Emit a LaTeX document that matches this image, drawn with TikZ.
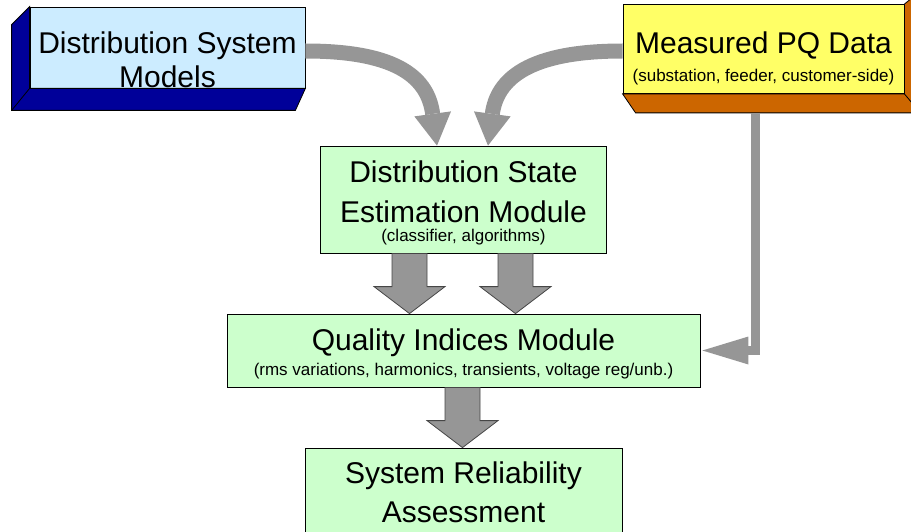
\documentclass[tikz,border=0pt]{standalone}
\usepackage{fontspec}
\setmainfont{Liberation Sans}
\usepackage{tikz}
\usetikzlibrary{arrows.meta, positioning, calc}
\definecolor{modelblue}{RGB}{204, 236, 255}
\definecolor{modeldark}{RGB}{0, 0, 153}
\definecolor{pqyellow}{RGB}{255, 255, 102}
\definecolor{pqorange}{RGB}{204, 102, 0}
\definecolor{modgreen}{RGB}{204, 255, 204}
\definecolor{flowgray}{RGB}{150, 150, 150}
\definecolor{rimgray}{RGB}{70, 70, 70}
\tikzset{
    facebox/.style={
        rectangle,
        draw=black,
        line width=0.8pt,
        inner sep=0pt,
        align=center
    },
    modbox/.style={
        facebox,
        fill=modgreen,
        font=\fontsize{30}{38}\selectfont
    },
    boxtext/.style={
        align=center,
        inner sep=0pt,
        font=\fontsize{30}{38}\selectfont
    },
    bendflow/.style={
        draw=flowgray,
        line width=15pt,
        -{Triangle[length=32pt, width=37pt, line width=0pt]}
    },
    sideflow/.style={
        draw=flowgray,
        line width=9pt,
        -{Triangle[length=46pt, width=28pt, line width=0pt]}
    },
    blockflow/.style={
        fill=flowgray,
        draw=rimgray,
        line width=0.8pt,
        line join=miter
    }
}
\newcommand{\subline}[1]{{\fontsize{17}{20}\selectfont #1}}
% fat downward arrow: x offset, source node, target node
\newcommand{\downblock}[3]{%
    \filldraw[blockflow]
        ($(#2.south)+(#1-17.5,0)$) -- ($(#2.south)+(#1+17.5,0)$)
        -- ($(#3.north)+(#1+17.5,-27)$) -- ($(#3.north)+(#1+35.5,-27)$)
        -- ($(#3.north)+(#1,0)$)
        -- ($(#3.north)+(#1-35.5,-27)$) -- ($(#3.north)+(#1-17.5,-27)$) -- cycle;}

\begin{document}
\begin{tikzpicture}[x=1pt, y=-1pt]
    \useasboundingbox (0,0) rectangle (911,532);
    \clip (0,0) rectangle (911,532);

    % the two input blocks, drawn as slabs
    \node[facebox, fill=modelblue, minimum width=275pt, minimum height=81pt] (dsm) at (167.5,47.5) {};
    \node[facebox, fill=pqyellow, minimum width=281pt, minimum height=89pt] (pq) at (763.5,49) {};
    \filldraw[fill=modeldark, draw=black, line width=0.8pt]
        (dsm.north west) -- ++(-18,18) -- ($(dsm.south west)+(-18,22)$)
        -- ($(dsm.south east)+(-10,22)$) -- (dsm.south east) -- (dsm.south west) -- cycle;
    \draw[line width=0.8pt] (dsm.south west) -- ++(-18,22);
    \filldraw[fill=pqorange, draw=black, line width=0.8pt]
        (pq.north east) -- ++(16,-13) -- ($(pq.south east)+(16,19)$)
        -- ($(pq.south west)+(13,19)$) -- (pq.south west) -- (pq.south east) -- cycle;
    \draw[line width=0.8pt] (pq.south east) -- ++(16,19);
    \node[boxtext] (dsmtext) at ($(dsm.center)+(0,12)$) {Distribution System\\[-4pt]Models};
    \node[boxtext] (pqtext) at ($(pq.center)+(0,9)$)
        {Measured PQ Data\\[-10pt]\subline{(substation, feeder, customer-side)}};

    % processing chain
    \node[modbox, minimum width=286pt, minimum height=107pt] (dse) at (463.5,199.5)
        {\rule{0pt}{28pt}Distribution State\\[2pt]Estimation Module\\[-19pt]\subline{(classifier, algorithms)}};
    \node[modbox, minimum width=473pt, minimum height=73pt] (qim) at (463.5,350.5)
        {\rule{0pt}{28pt}Quality Indices Module\\[-13pt]\subline{(rms variations, harmonics, transients, voltage reg/unb.)}};
    \node[modbox, minimum width=317pt, minimum height=88pt] (sra) at (463.5,492)
        {System Reliability\\[1pt]Assessment};

    \draw[bendflow] ([yshift=-3.5pt]dsm.east) .. controls +(95,0) and +(-9,-66) .. ([xshift=-26.5pt]dse.north);
    \draw[bendflow] ([yshift=-2pt]pq.west) .. controls +(-95,0) and +(9,-66) .. ([xshift=24.5pt]dse.north);
    \draw[sideflow] ($(pq.south)+(-8,19)$) |- ([xshift=2pt]qim.east);

    \downblock{-54}{dse}{qim}
    \downblock{52}{dse}{qim}
    \downblock{-1}{qim}{sra}
\end{tikzpicture}
\end{document}
